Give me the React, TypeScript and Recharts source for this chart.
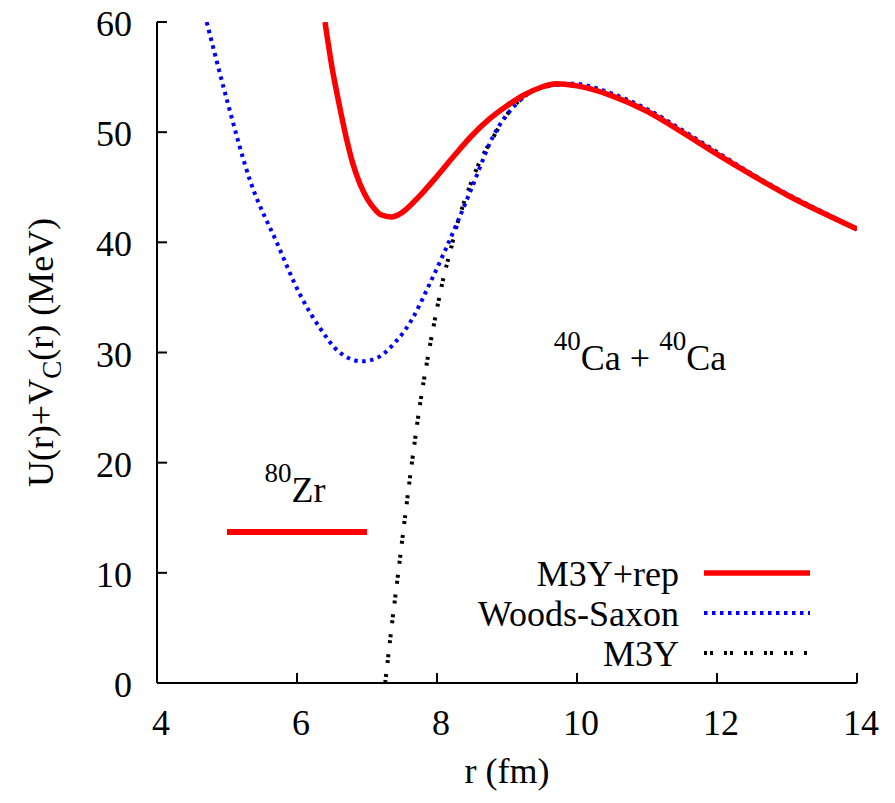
import { LineChart, Line, XAxis, YAxis, Legend, ReferenceDot, Label } from "recharts";

const FONT =
  '"Liberation Serif", "Tinos", "Nimbus Roman", "FreeSerif", "DejaVu Serif", "Times New Roman", Times, serif';
const FS = 36;
const SUP = 27;

// M3Y + repulsive core potential
const m3yRepR = [6.4, 6.5, 6.6, 6.7, 6.8, 6.9, 7.0, 7.1, 7.2, 7.35, 7.5, 7.75, 8.0, 8.25, 8.5, 8.75, 9.0, 9.25, 9.5, 9.7, 10.0, 10.5, 11.0, 11.5, 12.0, 12.5, 13.0, 13.5, 14.0];
const m3yRepU = [60, 55.9, 52.6, 49.6, 47.1, 45.3, 44.0, 43.1, 42.5, 42.3, 42.7, 44.2, 46.0, 47.9, 49.7, 51.2, 52.4, 53.4, 54.1, 54.4, 54.2, 53.3, 51.9, 50.0, 48.0, 46.1, 44.3, 42.7, 41.2];

// Woods-Saxon potential
const wsR = [4.71, 5.0, 5.33, 5.71, 6.04, 6.33, 6.61, 6.93, 7.14, 7.4, 7.66, 7.87, 8.09, 8.29, 8.5, 8.8, 9.14, 9.47, 9.94, 10.5, 11.0, 11.5, 12.0, 12.5, 13.0, 13.5, 14.0];
const wsU = [60, 52.9, 45.6, 40.0, 35.3, 32.2, 30.0, 29.2, 29.5, 30.9, 33.2, 35.9, 38.9, 41.8, 45.0, 49.6, 52.6, 54.0, 54.4, 53.5, 52.1, 50.2, 48.2, 46.2, 44.4, 42.8, 41.2];

// plain M3Y potential
const m3yR = [7.26, 7.35, 7.45, 7.55, 7.65, 7.76, 7.87, 7.97, 8.09, 8.19, 8.3, 8.44, 8.64, 8.8, 9.0, 9.33, 9.71, 10.0, 10.5, 11.0, 11.5, 12.0, 12.5, 13.0, 13.5, 14.0];
const m3yU = [0, 5.0, 10.2, 15.4, 20.4, 25.4, 29.6, 33.0, 36.7, 39.2, 41.9, 44.6, 47.7, 49.5, 51.6, 53.6, 54.3, 54.2, 53.3, 51.9, 50.0, 48.0, 46.1, 44.3, 42.7, 41.2];

// 80Zr level
const zrR = [5.0, 7.0];
const zrE = [13.7, 13.7];

const xTicks = [4, 6, 8, 10, 12, 14];
const yTicks = [0, 10, 20, 30, 40, 50, 60];
const legendOrder = ["M3Y+rep", "Woods-Saxon", "M3Y"];

const toPoints = (r: number[], u: number[]) => r.map((x, i) => ({ r: x, u: u[i] }));

const m3yRepData = toPoints(m3yRepR, m3yRepU);
const wsData = toPoints(wsR, wsU);
const m3yData = toPoints(m3yR, m3yU);
const zrData = toPoints(zrR, zrE);

const txt = { fontFamily: FONT, fontSize: FS, fill: "#000" };

const BottomTick = ({ x, y, payload }: any) => (
  <g>
    <line x1={x} x2={x} y1={y} y2={y - 10} stroke="#000" strokeWidth={2} />
    <text x={x + 4} y={y + 52} textAnchor="middle" style={txt}>
      {payload.value}
    </text>
  </g>
);

const TopTick = ({ x, y }: any) => <line x1={x} x2={x} y1={y} y2={y + 10} stroke="#000" strokeWidth={2} />;

const LeftTick = ({ x, y, payload }: any) => (
  <g>
    <line x1={x} x2={x + 10} y1={y} y2={y} stroke="#000" strokeWidth={2} />
    <text x={x - 25} y={y + 14} textAnchor="end" style={txt}>
      {payload.value}
    </text>
  </g>
);

const RightTick = ({ x, y }: any) => <line x1={x} x2={x - 10} y1={y} y2={y} stroke="#000" strokeWidth={2} />;

const YTitle = ({ viewBox }: any) => {
  const cx = viewBox.x + 53;
  const cy = viewBox.y + viewBox.height / 2;
  return (
    <text transform={`translate(${cx},${cy}) rotate(-90)`} textAnchor="middle" style={txt}>
      U(r)+V<tspan style={{ fontSize: SUP }} dy={8}>C</tspan>
      <tspan dy={-8}>(r) (MeV)</tspan>
    </text>
  );
};

const XTitle = ({ viewBox }: any) => (
  <text x={viewBox.x + viewBox.width / 2} y={viewBox.y + 100} textAnchor="middle" style={txt}>
    r (fm)
  </text>
);

const Isotope = (mass: string, rest: string) => (p: any) => (
  <text x={p.cx} y={p.cy} textAnchor="middle" style={txt}>
    <tspan style={{ fontSize: SUP }} dy={-20}>{mass}</tspan>
    <tspan dy={20}>{rest}</tspan>
  </text>
);

const ReactionLabel = (p: any) => (
  <text x={p.cx} y={p.cy} textAnchor="middle" style={txt}>
    <tspan style={{ fontSize: SUP }} dy={-20}>40</tspan>
    <tspan dy={20}>Ca + </tspan>
    <tspan style={{ fontSize: SUP }} dy={-20}>40</tspan>
    <tspan dy={20}>Ca</tspan>
  </text>
);

const renderLegend = (props: any) => {
  const items = (props.payload ?? [])
    .filter((it: any) => legendOrder.includes(it.value))
    .sort((a: any, b: any) => legendOrder.indexOf(a.value) - legendOrder.indexOf(b.value));
  return (
    <svg width={420} height={130} style={{ display: "block" }}>
      {items.map((it: any, i: number) => {
        const cy = 23 + i * 40;
        return (
          <g key={it.value}>
            <text x={279} y={cy + 13} textAnchor="end" style={txt}>
              {it.value}
            </text>
            <line
              x1={304}
              x2={410}
              y1={cy}
              y2={cy}
              stroke={it.color}
              strokeWidth={it.payload?.strokeWidth ?? 4}
              strokeDasharray={it.payload?.strokeDasharray}
            />
          </g>
        );
      })}
    </svg>
  );
};

export default function App() {
  return (
    <div style={{ position: "absolute", left: 0, top: 0, width: 895, height: 803, background: "#fff", fontFamily: FONT }}>
      <LineChart width={895} height={803} margin={{ top: 22, right: 38, bottom: 0, left: 0 }}>
        <XAxis
          xAxisId="x"
          dataKey="r"
          type="number"
          domain={[4, 14]}
          ticks={xTicks}
          interval={0}
          allowDataOverflow
          height={120}
          tickSize={0}
          tickMargin={0}
          tickLine={false}
          tick={<BottomTick />}
          axisLine={{ stroke: "#000", strokeWidth: 2 }}
        >
          <Label content={<XTitle />} />
        </XAxis>
        <XAxis
          xAxisId="xTop"
          orientation="top"
          dataKey="r"
          type="number"
          domain={[4, 14]}
          ticks={xTicks}
          interval={0}
          allowDataOverflow
          height={0}
          tickSize={0}
          tickMargin={0}
          tickLine={false}
          tick={<TopTick />}
          axisLine={{ stroke: "#000", strokeWidth: 2 }}
        />
        <YAxis
          yAxisId="y"
          type="number"
          domain={[0, 60]}
          ticks={yTicks}
          interval={0}
          allowDataOverflow
          width={157}
          tickSize={0}
          tickMargin={0}
          tickLine={false}
          tick={<LeftTick />}
          axisLine={{ stroke: "#000", strokeWidth: 2 }}
        >
          <Label content={<YTitle />} />
        </YAxis>
        <YAxis
          yAxisId="yRight"
          orientation="right"
          type="number"
          domain={[0, 60]}
          ticks={yTicks}
          interval={0}
          allowDataOverflow
          width={0}
          tickSize={0}
          tickMargin={0}
          tickLine={false}
          tick={<RightTick />}
          axisLine={{ stroke: "#000", strokeWidth: 2 }}
        />
        <Legend
          layout="horizontal"
          verticalAlign="middle"
          align="center"
          content={renderLegend}
          wrapperStyle={{ position: "absolute", left: 400, top: 550, width: 420, height: 130 }}
        />
        <Line
          xAxisId="x"
          yAxisId="y"
          data={m3yData}
          dataKey="u"
          name="M3Y"
          type="monotone"
          stroke="#000000"
          strokeWidth={4}
          strokeDasharray="3 3 3 11"
          dot={false}
          activeDot={false}
          isAnimationActive={false}
        />
        <Line
          xAxisId="x"
          yAxisId="y"
          data={wsData}
          dataKey="u"
          name="Woods-Saxon"
          type="monotone"
          stroke="#0000ff"
          strokeWidth={4}
          strokeDasharray="3.5 4.5"
          dot={false}
          activeDot={false}
          isAnimationActive={false}
        />
        <Line
          xAxisId="x"
          yAxisId="y"
          data={m3yRepData}
          dataKey="u"
          name="M3Y+rep"
          type="monotone"
          stroke="#ff0000"
          strokeWidth={5.5}
          dot={false}
          activeDot={false}
          isAnimationActive={false}
        />
        <Line
          xAxisId="x"
          yAxisId="y"
          data={zrData}
          dataKey="u"
          name="80Zr"
          type="linear"
          stroke="#ff0000"
          strokeWidth={6}
          legendType="none"
          dot={false}
          activeDot={false}
          isAnimationActive={false}
        />
        <ReferenceDot xAxisId="x" yAxisId="y" x={5.97} y={16.4} r={0} shape={Isotope("80", "Zr")} />
        <ReferenceDot xAxisId="x" yAxisId="y" x={10.9} y={28.4} r={0} shape={ReactionLabel} />
      </LineChart>
    </div>
  );
}
